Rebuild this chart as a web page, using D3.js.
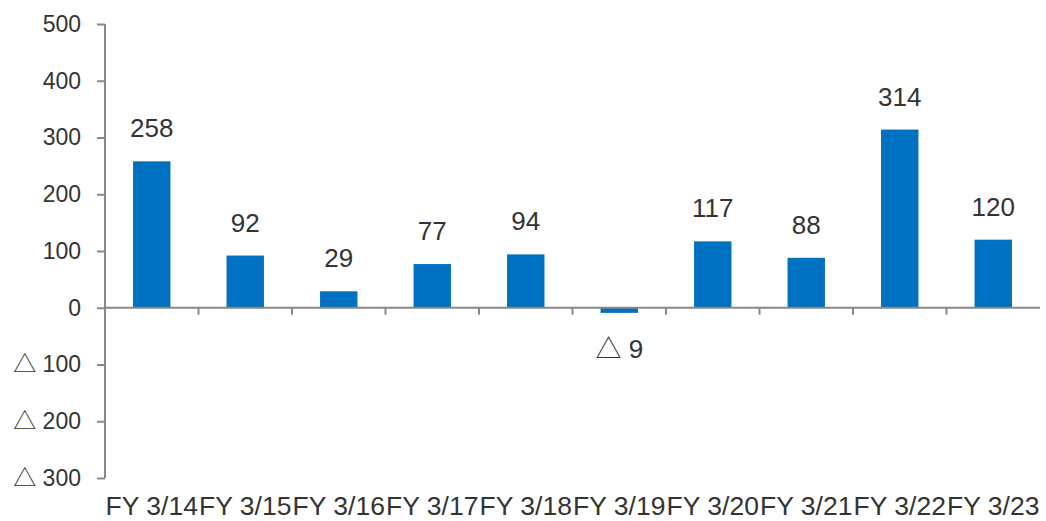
<!DOCTYPE html>
<html>
<head>
<meta charset="utf-8">
<script src="https://cdn.jsdelivr.net/npm/d3@7"></script>
<style>
body { margin: 0; background: white; }
text { font-family: "Liberation Sans", "Noto Sans CJK JP", sans-serif; fill: #333; }
</style>
</head>
<body>
<div id="canvas"></div>
<script>
var w = 1046;
var h = 521;

var years = ["FY 3/14", "FY 3/15", "FY 3/16", "FY 3/17", "FY 3/18", "FY 3/19", "FY 3/20", "FY 3/21", "FY 3/22", "FY 3/23"];
var values = [258, 92, 29, 77, 94, -9, 117, 88, 314, 120];
var yTicks = [500, 400, 300, 200, 100, 0, -100, -200, -300];

var fmt = v => v < 0 ? "\u25B3 " + (-v) : String(v);

var xScale = d3.scaleBand()
               .domain(years)
               .range([105, 1040])
               .paddingInner(0.6)
               .paddingOuter(0.3);

var yScale = d3.scaleLinear()
               .domain([-300, 500])
               .range([478, 24]);

var canvas = d3.select("#canvas")
               .append("svg")
               .attr("width", w)
               .attr("height", h)
               .style("background-color", "white");

// bars
canvas.selectAll("rect.bar")
      .data(values)
      .join("rect")
      .attr("class", "bar")
      .attr("x", (d, i) => xScale(years[i]))
      .attr("width", xScale.bandwidth())
      .attr("y", d => yScale(Math.max(0, d)))
      .attr("height", d => Math.abs(yScale(d) - yScale(0)))
      .attr("fill", "#0070C0");

// y axis
var yAxis = canvas.append("g")
      .attr("transform", "translate(105, 0)")
      .call(d3.axisLeft(yScale).tickValues(yTicks).tickSize(8).tickPadding(16).tickFormat(fmt));
yAxis.selectAll("path, line").attr("stroke", "#888").attr("stroke-width", 2);
yAxis.select(".domain").attr("d", `M0,${yScale(500)}V${yScale(-300)}`);
yAxis.selectAll("text").style("font-size", "23px").attr("fill", "#333");

// x axis line through zero
var bounds = d3.range(1, years.length).map(i => 105 + i * (935 / years.length));
canvas.append("line")
      .attr("x1", 105).attr("x2", 1040)
      .attr("y1", yScale(0)).attr("y2", yScale(0))
      .attr("stroke", "#888").attr("stroke-width", 2);
canvas.selectAll("line.xt")
      .data(bounds)
      .join("line")
      .attr("class", "xt")
      .attr("x1", d => d).attr("x2", d => d)
      .attr("y1", yScale(0)).attr("y2", yScale(0) + 7)
      .attr("stroke", "#888").attr("stroke-width", 2);

// category labels
canvas.selectAll("text.cat")
      .data(years)
      .join("text")
      .attr("class", "cat")
      .attr("x", d => xScale(d) + xScale.bandwidth() / 2)
      .attr("y", 515)
      .attr("text-anchor", "middle")
      .style("font-size", "26.5px")
      .text(d => d);

// value labels
canvas.selectAll("text.val")
      .data(values)
      .join("text")
      .attr("class", "val")
      .attr("x", (d, i) => xScale(years[i]) + xScale.bandwidth() / 2)
      .attr("y", d => d >= 0 ? yScale(d) - 24 : yScale(d) + 45)
      .attr("text-anchor", "middle")
      .style("font-size", "26px")
      .text(fmt);
</script>
</body>
</html>
